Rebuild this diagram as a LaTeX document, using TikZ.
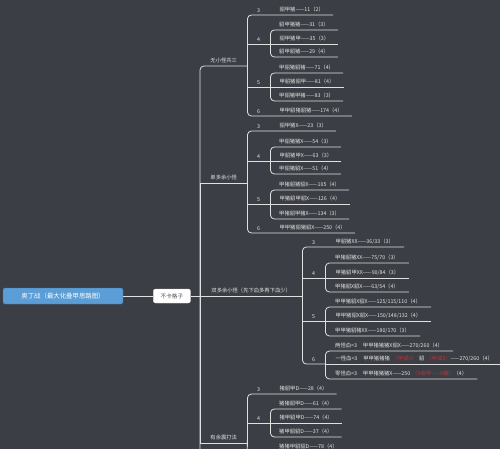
\documentclass[tikz,border=0pt]{standalone}
\usepackage{fontspec}
\setmainfont{Noto Sans CJK SC}
\usetikzlibrary{positioning}
\definecolor{bgc}{HTML}{3B3E44}
\definecolor{linec}{HTML}{E0E0E0}
\definecolor{txtc}{HTML}{E4E4E4}
\definecolor{rootc}{HTML}{5B9DD6}
\definecolor{redc}{HTML}{B3373B}
\newcommand{\leafsize}{\fontsize{5.3}{6}\selectfont}
\tikzset{
  rootbox/.style={draw=rootc!75!black,fill=rootc,rounded corners=2pt,text=white,
    font=\fontsize{6.4}{7}\selectfont,minimum width=120pt,minimum height=16pt,inner sep=1pt},
  kbox/.style={draw=black!15,fill=white,rounded corners=2pt,text=black!70,
    font=\fontsize{5.6}{6}\selectfont,minimum width=37pt,minimum height=14pt,inner sep=1pt},
  grplbl/.style={anchor=south west,inner xsep=0pt,inner ysep=2.6pt,text=txtc,font=\leafsize},
  numlbl/.style={anchor=south west,minimum width=23pt,inner xsep=0pt,inner ysep=2.6pt,text=txtc,font=\leafsize},
  leaflbl/.style={anchor=south west,inner xsep=9pt,inner ysep=2.6pt,text=txtc,font=\leafsize},
  conn/.style={draw=linec,line width=0.8pt,rounded corners=4pt},
  tconn/.style={draw=linec,line width=0.8pt,sharp corners},
}
\begin{document}
\begin{tikzpicture}[x=1pt,y=-1pt]
  \fill[bgc] (0,0) rectangle (500,449);
  \useasboundingbox (0,0) rectangle (500,449);
  \clip (0,0) rectangle (500,449);

  % root and main branch
  \node[rootbox] (odin) at (63,296) {奥丁战（最大化叠甲思路图）};
  \node[kbox,right=30pt of odin] (kz) {不卡格子};
  \coordinate (tr) at (200,296);
  \coordinate (trend) at (200,470);

  % groups
  \node[grplbl,minimum width=47pt] (gw) at (200,66) {无小怪共三};
  \node[grplbl,minimum width=47pt] (gd) at (200,183) {单多余小怪};
  \node[grplbl,minimum width=102pt] (gs) at (200,296) {双多余小怪（先下血多再下血少）};
  \node[grplbl,minimum width=47pt] (gy) at (200,443) {有余震打法};

  \draw[conn] (odin) -- (kz) (kz) -- (tr);
  \draw[conn] (gw.south east) -| (tr) -- (trend);
  \foreach \g in {gd,gs,gy} \draw[tconn] (tr) |- (\g.south east);

  % ---- 无小怪共三 ----
  \node[numlbl] (w3) at (247,15) {3};
  \node[leaflbl] (w3a) at (w3.south east) {貂甲猪——11（2）};
  \node[numlbl] (w4) at (247,44) {4};
  \node[leaflbl] (w4a) at (270,30) {貂甲猪猪——31（3）};
  \node[leaflbl] (w4b) at (w4.south east) {貂甲猪甲——35（3）};
  \node[leaflbl] (w4c) at (270,57) {貂甲貂猪——29（4）};
  \node[numlbl] (w5) at (247,87) {5};
  \node[leaflbl] (w5a) at (270,73) {甲貂猪貂猪——71（4）};
  \node[leaflbl] (w5b) at (w5.south east) {甲貂猪貂甲——81（4）};
  \node[leaflbl] (w5c) at (270,101) {甲貂猪甲猪——83（3）};
  \node[numlbl] (w6) at (247,116) {6};
  \node[leaflbl] (w6a) at (w6.south east) {甲甲貂猪貂猪——174（4）};
  \draw[conn] (w3a.south east) -| (gw.south east) |- (w6a.south east);
  \foreach \c in {w4,w5} \draw[tconn] (gw.south east) |- (\c.south east);
  \foreach \n in {w4,w5}{
    \draw[conn] (\n a.south east) -| (\n.south east) |- (\n c.south east);
    \draw[tconn] (\n.south east) -- (\n b.south east);
  }

  % ---- 单多余小怪 ----
  \node[numlbl] (d3) at (247,131) {3};
  \node[leaflbl] (d3a) at (d3.south east) {貂甲猪X——23（3）};
  \node[numlbl] (d4) at (247,161) {4};
  \node[leaflbl] (d4a) at (270,147) {甲貂猪猪X——54（3）};
  \node[leaflbl] (d4b) at (d4.south east) {甲貂猪甲X——63（3）};
  \node[leaflbl] (d4c) at (270,174) {甲貂猪貂X——51（4）};
  \node[numlbl] (d5) at (247,204) {5};
  \node[leaflbl] (d5a) at (270,190) {甲猪貂猪貂X——105（4）};
  \node[leaflbl] (d5b) at (d5.south east) {甲猪貂甲貂X——126（4）};
  \node[leaflbl] (d5c) at (270,219) {甲猪貂甲猪X——134（3）};
  \node[numlbl] (d6) at (247,233) {6};
  \node[leaflbl] (d6a) at (d6.south east) {甲甲猪貂猪貂X——250（4）};
  \draw[conn] (d3a.south east) -| (gd.south east) |- (d6a.south east);
  \foreach \c in {d4,d5} \draw[tconn] (gd.south east) |- (\c.south east);
  \foreach \n in {d4,d5}{
    \draw[conn] (\n a.south east) -| (\n.south east) |- (\n c.south east);
    \draw[tconn] (\n.south east) -- (\n b.south east);
  }

  % ---- 双多余小怪 ----
  \node[numlbl] (s3) at (302,247) {3};
  \node[leaflbl,inner xsep=10pt] (s3a) at (s3.south east) {甲貂猪XX——36/33（3）};
  \node[numlbl] (s4) at (302,278) {4};
  \node[leaflbl,inner xsep=10pt] (s4a) at (325,263) {甲猪貂猪XX——75/70（3）};
  \node[leaflbl,inner xsep=10pt] (s4b) at (s4.south east) {甲猪貂甲XX——90/84（3）};
  \node[leaflbl,inner xsep=10pt] (s4c) at (325,292) {甲猪貂X貂X——63/54（4）};
  \node[numlbl] (s5) at (302,321) {5};
  \node[leaflbl,inner xsep=10pt] (s5a) at (325,307) {甲甲猪貂X貂X——125/115/110（4）};
  \node[leaflbl,inner xsep=10pt] (s5b) at (s5.south east) {甲甲猪貂X貂X——150/148/132（4）};
  \node[leaflbl,inner xsep=10pt] (s5c) at (325,336) {甲甲猪貂猪XX——180/170（3）};
  \node[numlbl] (s6) at (302,364) {6};
  \node[leaflbl,inner xsep=10pt] (s6a) at (325,351) {两怪血<3\hspace{6pt}甲甲猪猪猪X貂X——270/260（4）};
  \node[leaflbl,inner xsep=10pt] (s6b) at (s6.south east)
    {一怪血<3\hspace{6pt}甲甲猪猪猪\hspace{3pt}\textcolor{redc}{（甲或X）}\hspace{2pt}貂\hspace{2pt}\textcolor{redc}{（甲或X）}——270/260（4）};
  \node[leaflbl,inner xsep=10pt] (s6c) at (325,379)
    {零怪血<3\hspace{6pt}甲甲猪猪猪X——250\hspace{2pt}\textcolor{redc}{（X或甲——X猪）}（4）};
  \draw[conn] (s3a.south east) -| (gs.south east) |- (s6.south east);
  \foreach \c in {s4,s5} \draw[tconn] (gs.south east) |- (\c.south east);
  \foreach \n in {s4,s5,s6}{
    \draw[conn] (\n a.south east) -| (\n.south east) |- (\n c.south east);
    \draw[tconn] (\n.south east) -- (\n b.south east);
  }

  % ---- 有余震打法 ----
  \node[numlbl] (y3) at (247,394) {3};
  \node[leaflbl] (y3a) at (y3.south east) {猪貂甲D——28（4）};
  \node[numlbl] (y4) at (247,423) {4};
  \node[leaflbl] (y4a) at (270,409) {猪猪貂甲D——61（4）};
  \node[leaflbl] (y4b) at (y4.south east) {猪甲貂甲D——74（4）};
  \node[leaflbl] (y4c) at (270,437) {猪甲貂貂D——37（4）};
  \node[leaflbl] (y5a) at (270,452) {猪猪甲貂貂D——78（4）};
  \coordinate (yend) at (247,470);
  \coordinate (y5) at (270,470);
  \draw[conn] (y3a.south east) -| (gy.south east) -- (yend);
  \draw[tconn] (gy.south east) |- (y4.south east);
  \draw[conn] (y4a.south east) -| (y4.south east) |- (y4c.south east);
  \draw[tconn] (y4.south east) -- (y4b.south east);
  \draw[conn] (y5a.south east) -| (y5);
\end{tikzpicture}
\end{document}
